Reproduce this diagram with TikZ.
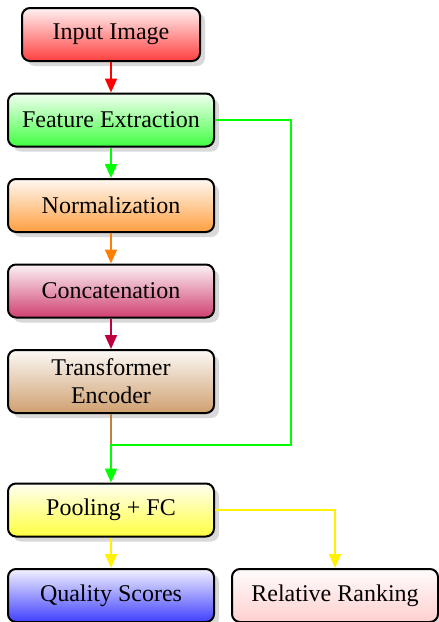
\documentclass[tikz,border=0pt]{standalone}
\usepackage{fontspec}
\setmainfont{Liberation Serif}
\usetikzlibrary{shadows,arrows.meta}
\begin{document}
\begin{tikzpicture}[x=0.5pt,y=-0.5pt,
  box/.style={draw=black, line width=1pt, rounded corners=4pt,
    minimum width=103pt, minimum height=26.5pt, align=center,
    font=\fontsize{12}{14}\selectfont,
    drop shadow={shadow xshift=2.5pt, shadow yshift=-2.5pt, fill=black!15, opacity=1},
    top color=#1!5, bottom color=#1!75},
  conn/.style={line width=1pt, -{Triangle[length=7pt,width=6pt]}}]
\useasboundingbox (0,0) rectangle (439,622);
\node[box=red, minimum width=89pt] (in) at (111,34.5) {Input Image};
\node[box=green] (fe) at (111,120) {Feature Extraction};
\node[box=orange] (no) at (111,205.5) {Normalization};
\node[box=purple] (co) at (111,291) {Concatenation};
\node[box=brown, minimum height=31.5pt] (te) at (111,381.5) {Transformer\\Encoder};
\node[box=yellow] (po) at (111,510) {Pooling + FC};
\node[box=blue] (qs) at (111,595.5) {Quality Scores};
\node[box=pink] (rr) at (335,595.5) {Relative Ranking};
\coordinate (m) at (111,445);
\coordinate (r) at (291,445);
\draw[conn, red] (in) -- (fe);
\draw[conn, green] (fe) -- (no);
\draw[conn, orange] (no) -- (co);
\draw[conn, purple] (co) -- (te);
\draw[line width=1pt, brown] (te) -- (m);
\draw[conn, green] (fe.east) -| (r) -- (m) -- (po.north);
\draw[conn, yellow] (po) -- (qs);
\draw[conn, yellow] (po.east) -| (rr.north);
\end{tikzpicture}
\end{document}
